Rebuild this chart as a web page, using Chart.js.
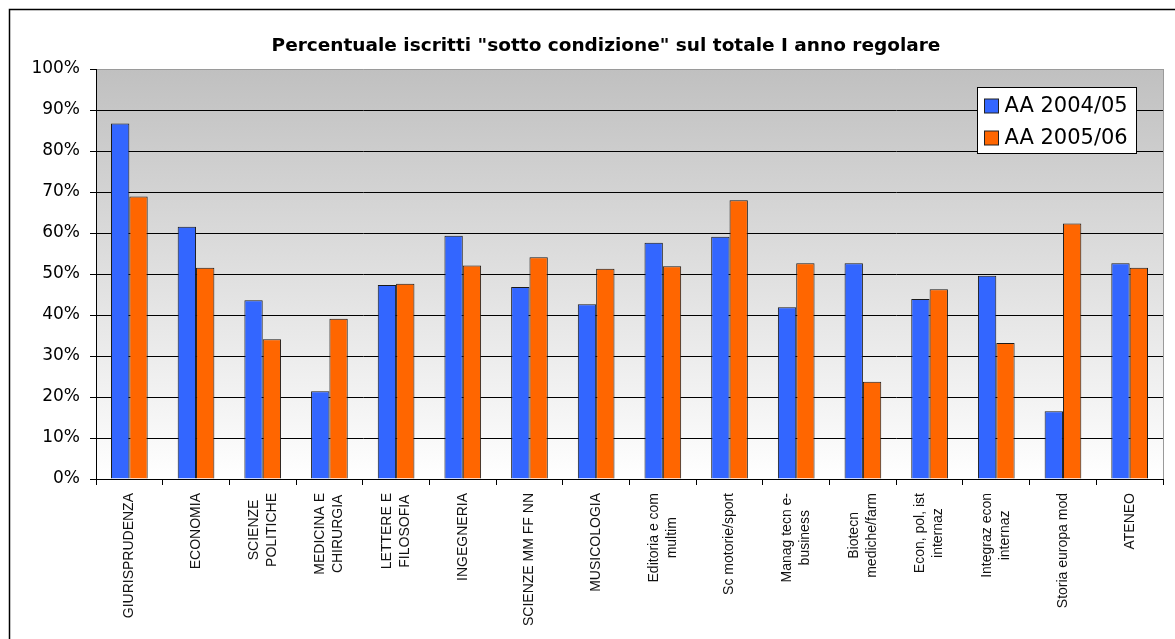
<!DOCTYPE html>
<html>
<head>
<meta charset="utf-8">
<script src="https://cdn.jsdelivr.net/npm/chart.js@4/dist/chart.umd.min.js"></script>
<style>
  body { margin: 0; background: #fff; }
</style>
</head>
<body>
<canvas id="chart" width="1175" height="639"></canvas>
<script>
// facolta (etichette su piu righe)
var categories = [
  ["GIURISPRUDENZA"],
  ["ECONOMIA"],
  ["SCIENZE", "POLITICHE"],
  ["MEDICINA E", "CHIRURGIA"],
  ["LETTERE E", "FILOSOFIA"],
  ["INGEGNERIA"],
  ["SCIENZE MM FF NN"],
  ["MUSICOLOGIA"],
  ["Editoria e com", "multim"],
  ["Sc motorie/sport"],
  ["Manag tecn e-", "business"],
  ["Biotecn", "mediche/farm"],
  ["Econ, pol, ist", "internaz"],
  ["Integraz econ", "internaz"],
  ["Storia europa mod"],
  ["ATENEO"],
];

var seriesNames = ["AA 2004/05", "AA 2005/06"];

// % iscritti sotto condizione
var aa0405 = [86.7, 61.5, 43.6, 21.4, 47.3, 59.3, 46.8, 42.6, 57.6, 59.1, 41.9, 52.6, 43.9, 49.6, 16.5, 52.6];
var aa0506 = [68.9, 51.5, 34.1, 39.1, 47.6, 52.1, 54.1, 51.3, 51.9, 68.0, 52.6, 23.7, 46.3, 33.2, 62.3, 51.5];

var yMin = 0;
var yMax = 100;
var yStep = 10;

var titleText = 'Percentuale iscritti "sotto condizione" sul totale I anno regolare';

// cornice esterna, titolo e sfondo sfumato dell'area del grafico
var backgroundPlugin = {
  id: "background",
  beforeDraw: function (chart) {
    var ctx = chart.ctx;
    var area = chart.chartArea;
    ctx.save();
    ctx.fillStyle = "#fff";
    ctx.fillRect(0, 0, chart.width, chart.height);
    ctx.strokeStyle = "#000";
    ctx.lineWidth = 1.5;
    ctx.strokeRect(9.5, 9.5, chart.width + 20, chart.height + 20);

    ctx.fillStyle = "#000";
    ctx.font = "bold 18.5px 'DejaVu Sans', sans-serif";
    ctx.textAlign = "center";
    ctx.textBaseline = "middle";
    ctx.fillText(titleText, 606, 46);

    var grad = ctx.createLinearGradient(0, area.top, 0, area.bottom);
    grad.addColorStop(0, "#c0c0c0");
    grad.addColorStop(1, "#ffffff");
    ctx.fillStyle = grad;
    ctx.fillRect(area.left, area.top, area.right - area.left, area.bottom - area.top);
    ctx.restore();
  },
  beforeDatasetsDraw: function (chart) {
    var ctx = chart.ctx;
    var area = chart.chartArea;
    ctx.save();
    ctx.strokeStyle = "#9a9a9a";
    ctx.lineWidth = 1;
    ctx.beginPath();
    ctx.moveTo(Math.round(area.right) + 0.5, area.top);
    ctx.lineTo(Math.round(area.right) + 0.5, area.bottom);
    ctx.stroke();
    ctx.restore();
  },
};

// etichette asse x ruotate, righe centrate tra loro
var xLabelsPlugin = {
  id: "xLabels",
  afterDraw: function (chart) {
    var ctx = chart.ctx;
    var xScale = chart.scales.x;
    var top = chart.chartArea.bottom + 14;
    var lineGap = 18;
    ctx.save();
    ctx.font = "14px 'Liberation Sans', Arial, sans-serif";
    ctx.fillStyle = "#111";
    ctx.textAlign = "center";
    ctx.textBaseline = "middle";
    chart.data.labels.forEach(function (lines, i) {
      var cx = xScale.getPixelForValue(i);
      var maxLen = 0;
      lines.forEach(function (l) {
        maxLen = Math.max(maxLen, ctx.measureText(l).width);
      });
      ctx.save();
      ctx.translate(cx, top);
      ctx.rotate(-Math.PI / 2);
      lines.forEach(function (l, j) {
        var off = (j - (lines.length - 1) / 2) * lineGap;
        ctx.fillText(l, -maxLen / 2, off);
      });
      ctx.restore();
    });
    ctx.restore();
  },
};

// legenda riquadrata dentro l'area del grafico
var legendBoxPlugin = {
  id: "legendBox",
  afterDraw: function (chart) {
    var ctx = chart.ctx;
    var area = chart.chartArea;
    var w = 159;
    var h = 66;
    var x = Math.round(area.right - 27 - w) + 0.5;
    var y = Math.round(area.top + 18) + 0.5;
    ctx.save();
    ctx.fillStyle = "#fff";
    ctx.fillRect(x, y, w, h);
    ctx.strokeStyle = "#000";
    ctx.lineWidth = 1;
    ctx.strokeRect(x, y, w, h);
    ctx.font = "21px 'DejaVu Sans', sans-serif";
    ctx.textBaseline = "middle";
    chart.data.datasets.forEach(function (ds, i) {
      var rowY = y + 18.5 + i * 32;
      ctx.fillStyle = ds.backgroundColor;
      ctx.fillRect(x + 7, rowY - 7, 14, 14);
      ctx.strokeStyle = "#222";
      ctx.strokeRect(x + 7, rowY - 7, 14, 14);
      ctx.fillStyle = "#000";
      ctx.fillText(ds.label, x + 27, rowY + 1);
    });
    ctx.restore();
  },
};

new Chart(document.getElementById("chart"), {
  type: "bar",
  data: {
    labels: categories,
    datasets: [
      {
        label: seriesNames[0],
        data: aa0405,
        backgroundColor: "#3366ff",
        borderColor: "#1a1a1a",
        borderWidth: 1,
      },
      {
        label: seriesNames[1],
        data: aa0506,
        backgroundColor: "#ff6600",
        borderColor: "#1a1a1a",
        borderWidth: 1,
      },
    ],
  },
  options: {
    responsive: false,
    animation: false,
    devicePixelRatio: 1,
    layout: {
      padding: { left: 0, right: 12, top: 69, bottom: 0 },
    },
    datasets: {
      bar: { categoryPercentage: 0.55, barPercentage: 1 },
    },
    plugins: {
      legend: { display: false },
      tooltip: { enabled: false },
      title: { display: false },
    },
    scales: {
      x: {
        ticks: { display: false },
        grid: {
          drawOnChartArea: false,
          drawTicks: true,
          tickLength: 6,
          color: "#000",
        },
        border: { display: true, color: "#000", width: 1 },
        afterFit: function (scale) {
          scale.height = 160;
        },
      },
      y: {
        min: yMin,
        max: yMax,
        ticks: {
          stepSize: yStep,
          padding: 10,
          color: "#000",
          font: { family: "'DejaVu Sans', sans-serif", size: 17 },
          callback: function (v) {
            return v + "%";
          },
        },
        grid: {
          color: function (c) {
            return c.tick && c.tick.value === yMax ? "#9a9a9a" : "#000";
          },
          tickColor: "#000",
          tickLength: 6,
          lineWidth: 1,
        },
        border: { display: true, color: "#000", width: 1 },
        afterFit: function (scale) {
          scale.width = 96;
        },
      },
    },
  },
  plugins: [backgroundPlugin, xLabelsPlugin, legendBoxPlugin],
});
</script>
</body>
</html>
